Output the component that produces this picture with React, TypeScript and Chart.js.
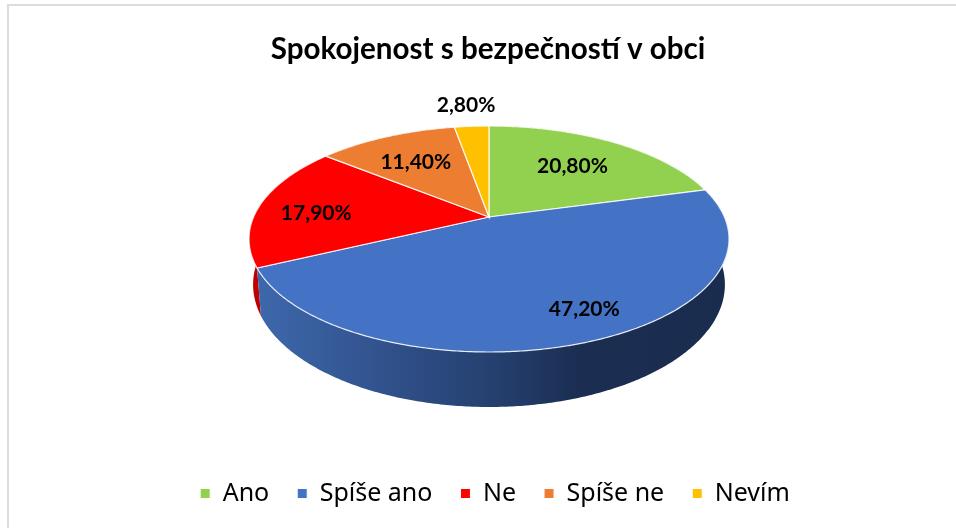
import React, { useEffect, useRef } from "react";
import { Chart, registerables } from "chart.js";

Chart.register(...registerables);

const titleText = "Spokojenost s bezpečností v obci";
const categories = ["Ano", "Spíše ano", "Ne", "Spíše ne", "Nevím"];
const shares = [20.8, 47.2, 17.9, 11.4, 2.8];
const shareLabels = ["20,80%", "47,20%", "17,90%", "11,40%", "2,80%"];
const sliceColors = ["#92D050", "#4472C4", "#FF0000", "#ED7D31", "#FFC000"];
const wallColors = ["#5f8a34", "#2f4f88", "#C00000", "#a85820", "#b08400"];

// Perspective view of the pie: a unit disc mapped on to the screen.
const CX = 489, CY = 239, A = 235.4, B = 113, C = -22, P = -0.1947;
const project = (angle: number, r = 1): [number, number] => {
  const u = Math.cos(angle) * r;
  const v = Math.sin(angle) * r;
  const d = 1 + P * v;
  return [CX + (A * u) / d, CY + (B * v + C) / d];
};
const projectBase = (angle: number): [number, number] => {
  const [x, y] = project(angle);
  return [CX + (x - CX) * 0.983, CY + (y - CY) * 1.083 + 45.6];
};
const arcPoints = (s: number, e: number, fn: (a: number) => [number, number]) => {
  const n = Math.max(2, Math.ceil(Math.abs(e - s) / 0.01));
  const pts: [number, number][] = [];
  for (let i = 0; i <= n; i++) pts.push(fn(s + ((e - s) * i) / n));
  return pts;
};
const labelNudge: [number, number][] = [[-1, 0], [35, 17], [-23, 4], [-3, 0], [-11, -49]];

const piePlugin = {
  id: "perspectivePie",
  afterLayout(chart: any) {
    const lg = chart.legend;
    lg.left += 7; lg.right += 7; lg.top -= 12; lg.bottom -= 12;
  },
  beforeDraw(chart: any) {
    const ctx = chart.ctx;
    ctx.save();
    ctx.strokeStyle = "#dcdcdc";
    ctx.lineWidth = 2;
    ctx.beginPath();
    ctx.moveTo(8, 528);
    ctx.lineTo(8, 5);
    ctx.lineTo(956, 5);
    ctx.stroke();
    ctx.restore();
  },
  beforeDatasetsDraw(chart: any) {
    const ctx = chart.ctx as CanvasRenderingContext2D;
    const arcs = chart.getDatasetMeta(0).data as any[];
    const grad = ctx.createLinearGradient(257, 0, 730, 0);
    grad.addColorStop(0, "#3E68AC");
    grad.addColorStop(0.3, "#2F4F88");
    grad.addColorStop(0.5, "#25406F");
    grad.addColorStop(0.68, "#1B2E52");
    grad.addColorStop(1, "#1A2C4E");
    ctx.save();
    // side walls
    [0, 3, 4, 2, 1].forEach((i) => {
      const { startAngle: s, endAngle: e } = arcs[i];
      const top = arcPoints(s, e, (a) => project(a));
      const base = arcPoints(s, e, projectBase).reverse();
      ctx.beginPath();
      [...top, ...base].forEach(([x, y], k) => (k ? ctx.lineTo(x, y) : ctx.moveTo(x, y)));
      ctx.closePath();
      ctx.fillStyle = i === 1 ? grad : wallColors[i];
      ctx.fill();
    });
    // top faces
    arcs.forEach((arc, i) => {
      const pts = arcPoints(arc.startAngle, arc.endAngle, (a) => project(a));
      ctx.beginPath();
      ctx.moveTo(CX, CY + C);
      pts.forEach(([x, y]) => ctx.lineTo(x, y));
      ctx.closePath();
      ctx.fillStyle = sliceColors[i];
      ctx.fill();
      ctx.strokeStyle = "rgba(255,255,255,0.85)";
      ctx.lineWidth = 1.2;
      ctx.stroke();
    });
    // labels
    ctx.font = "bold 21px Lato";
    ctx.fillStyle = "#000";
    ctx.textAlign = "center";
    ctx.textBaseline = "middle";
    arcs.forEach((arc, i) => {
      const [x, y] = project((arc.startAngle + arc.endAngle) / 2, 0.65);
      ctx.fillText(shareLabels[i], x + labelNudge[i][0], y + labelNudge[i][1]);
    });
    ctx.restore();
    return false;
  },
};

export default function App() {
  const ref = useRef<HTMLCanvasElement>(null);
  useEffect(() => {
    const chart = new Chart(ref.current as HTMLCanvasElement, {
      type: "pie",
      data: {
        labels: categories,
        datasets: [{ data: shares, backgroundColor: sliceColors, borderColor: "#fff", borderWidth: 1 }],
      },
      options: {
        responsive: false,
        animation: false,
        layout: { padding: { left: 20 } },
        plugins: {
          title: {
            display: true,
            text: titleText,
            color: "#000",
            font: { family: "Lato", size: 29.6, weight: "bold" },
            padding: { top: 32, bottom: 20 },
          },
          legend: {
            position: "bottom",
            labels: {
              color: "#000",
              boxWidth: 10,
              boxHeight: 10,
              padding: 28,
              font: { family: "Noto Sans", size: 25 },
            },
          },
          tooltip: { enabled: false },
        },
      },
      plugins: [piePlugin],
    } as any);
    return () => chart.destroy();
  }, []);
  return (
    <div style={{ position: "absolute", left: 0, top: 0, width: 956, height: 528 }}>
      <canvas ref={ref} width={956} height={528} style={{ display: "block" }} />
    </div>
  );
}
